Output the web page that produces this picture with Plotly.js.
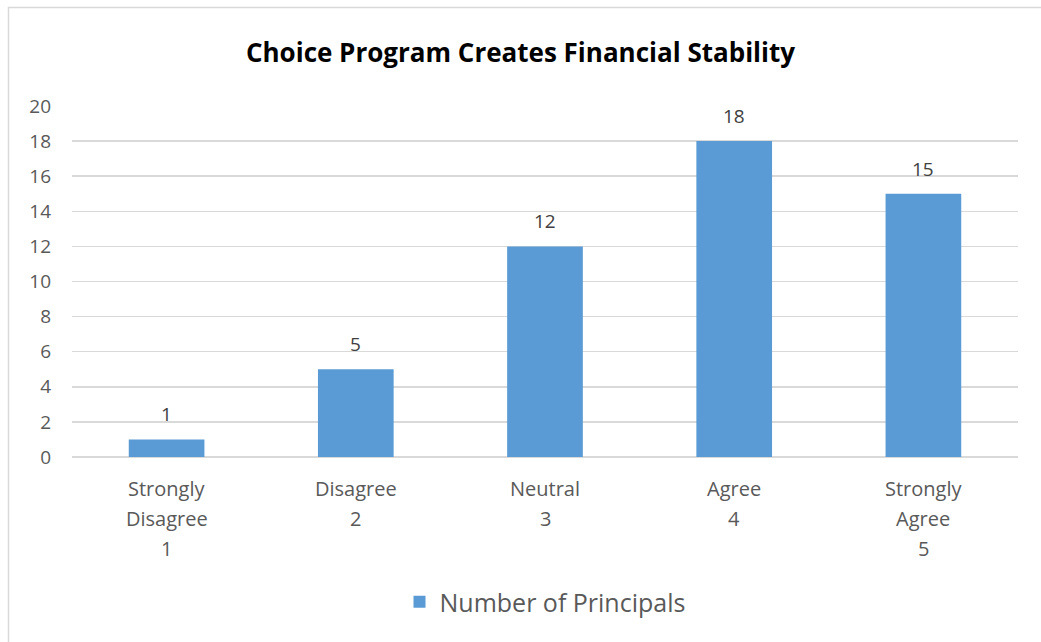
<!DOCTYPE html>
<html>
<head>
<meta charset="utf-8">
<script src="https://cdn.plot.ly/plotly-3.0.1.min.js"></script>
<style>html,body{margin:0;padding:0;background:#fff;}#chart{width:1041px;height:642px;}</style>
</head>
<body>
<div id="chart"></div>
<script>
const categories = ["Strongly Disagree 1", "Disagree 2", "Neutral 3", "Agree 4", "Strongly Agree 5"];
const categoryLines = [["Strongly", "Disagree", "1"], ["Disagree", "2"], ["Neutral", "3"], ["Agree", "4"], ["Strongly", "Agree", "5"]];
const principals = [1, 5, 12, 18, 15];
const seriesName = "Number of Principals";
const chartTitle = "Choice Program Creates Financial Stability";
const yTicks = [0, 2, 4, 6, 8, 10, 12, 14, 16, 18, 20];

const W = 1041, H = 642;
const m = {l: 72, r: 23, t: 106, b: 185};
const pw = W - m.l - m.r, ph = H - m.t - m.b;
const px = v => (v - m.l) / pw;
const py = v => (H - m.b - v) / ph;

const font = "Open Sans, Liberation Sans, sans-serif";

const trace = {
  type: "bar",
  x: categories,
  y: principals,
  name: seriesName,
  marker: {color: "#5b9bd5"},
  width: 0.4,
  showlegend: true,
  hoverinfo: "x+y"
};

const annotations = [];
// data labels
categories.forEach((c, i) => {
  annotations.push({
    x: c, y: principals[i], xref: "x", yref: "y",
    text: String(principals[i]), showarrow: false,
    yshift: 25, yanchor: "middle", xanchor: "center",
    font: {family: font, size: 19, color: "#404040"}
  });
});
// category labels, one line each (30px line pitch)
categories.forEach((c, i) => {
  categoryLines[i].forEach((line, j) => {
    annotations.push({
      x: c, y: 0, xref: "x", yref: "y",
      text: line, showarrow: false,
      yshift: -31 - 30 * j, yanchor: "middle", xanchor: "center",
      font: {family: font, size: 20, color: "#595959"}
    });
  });
});

const layout = {
  width: W, height: H,
  margin: m,
  paper_bgcolor: "#fff", plot_bgcolor: "#fff",
  font: {family: font, color: "#595959"},
  title: {text: "<b>" + chartTitle + "</b>", font: {family: font, size: 26, color: "#000"}, x: 0.5, xanchor: "center", y: 1 - 53/H, yanchor: "middle"},
  bargap: 0.6,
  xaxis: {
    type: "category",
    showticklabels: false,
    showgrid: false, showline: false, ticks: "", zeroline: false
  },
  yaxis: {
    range: [0, 20],
    tickvals: yTicks,
    tickfont: {family: font, size: 19, color: "#595959"},
    gridcolor: "#d9d9d9", gridwidth: 1.5,
    zeroline: true, zerolinecolor: "#d9d9d9", zerolinewidth: 1.5,
    showline: false, ticks: "",
    ticklabelstandoff: 20
  },
  legend: {
    orientation: "h", x: 0.5, xanchor: "center", y: py(602), yanchor: "middle",
    font: {family: font, size: 25, color: "#595959"}
  },
  annotations: annotations,
  shapes: [
    {type: "line", xref: "paper", yref: "paper", x0: px(8.5), x1: px(8.5), y0: py(7), y1: py(H + 5), line: {color: "#d9d9d9", width: 1.5}},
    {type: "line", xref: "paper", yref: "paper", x0: px(8), x1: px(W + 5), y0: py(7.5), y1: py(7.5), line: {color: "#d9d9d9", width: 1.5}}
  ]
};

Plotly.newPlot("chart", [trace], layout, {displayModeBar: false, staticPlot: true});
</script>
</body>
</html>
